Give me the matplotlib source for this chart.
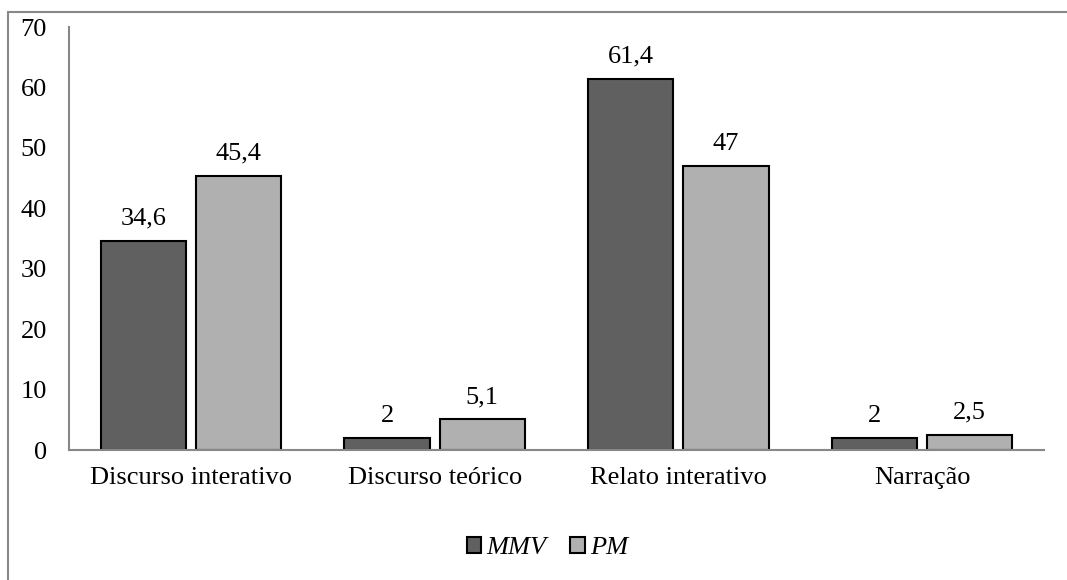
import matplotlib
matplotlib.use("Agg")
import matplotlib.pyplot as plt
import matplotlib.patches as mpatches
import numpy as np

categories = ["Discurso interativo", "Discurso teórico", "Relato interativo", "Narração"]
mmv = [34.6, 2, 61.4, 2]
pm = [45.4, 5.1, 47, 2.5]
mmv_labels = ["34,6", "2", "61,4", "2"]
pm_labels = ["45,4", "5,1", "47", "2,5"]

plt.rcParams["font.family"] = ["Liberation Serif", "DejaVu Serif"]
FS = 19

fig = plt.figure(figsize=(10.67, 5.8), dpi=100)
ax = fig.add_axes([0.0647, 0.2241, 0.9137, 0.7293])

# outer chart frame (only left and top edges visible)
frame = mpatches.Rectangle((8 / 1067, -0.1), 1.2, 1 - 12 / 580 + 0.1,
                           transform=fig.transFigure, fill=False,
                           edgecolor="#888888", linewidth=1.5, clip_on=False)
fig.patches.append(frame)

x = np.arange(len(categories))
width = 0.35
offset = 0.195

b1 = ax.bar(x - offset, mmv, width, color="#606060", edgecolor="black",
            linewidth=1.5, label="MMV")
b2 = ax.bar(x + offset, pm, width, color="#b0b0b0", edgecolor="black",
            linewidth=1.5, label="PM")

for bars, labels in [(b1, mmv_labels), (b2, pm_labels)]:
    for rect, lab in zip(bars, labels):
        ax.annotate(lab, (rect.get_x() + rect.get_width() / 2, rect.get_height()),
                    xytext=(0, 8), textcoords="offset points",
                    ha="center", va="bottom", fontsize=FS)

ax.set_xlim(-0.5, len(categories) - 0.5)
ax.set_ylim(0, 70)
ax.set_yticks(range(0, 71, 10))
ax.set_xticks(x)
ax.set_xticklabels(categories)
ax.tick_params(axis="both", length=0, labelsize=FS)
ax.tick_params(axis="y", pad=16)
ax.tick_params(axis="x", pad=12)

for side in ["top", "right"]:
    ax.spines[side].set_visible(False)
for side in ["left", "bottom"]:
    ax.spines[side].set_color("#888888")
    ax.spines[side].set_linewidth(1.5)

leg = fig.legend(handles=[b1, b2], loc="center", bbox_to_anchor=(0.513, 0.055),
                 ncol=2, frameon=False, prop={"size": FS, "style": "italic"},
                 handlelength=0.55, handleheight=0.55, handletextpad=0.2,
                 columnspacing=0.9)

fig.savefig("out.png", dpi=100)
